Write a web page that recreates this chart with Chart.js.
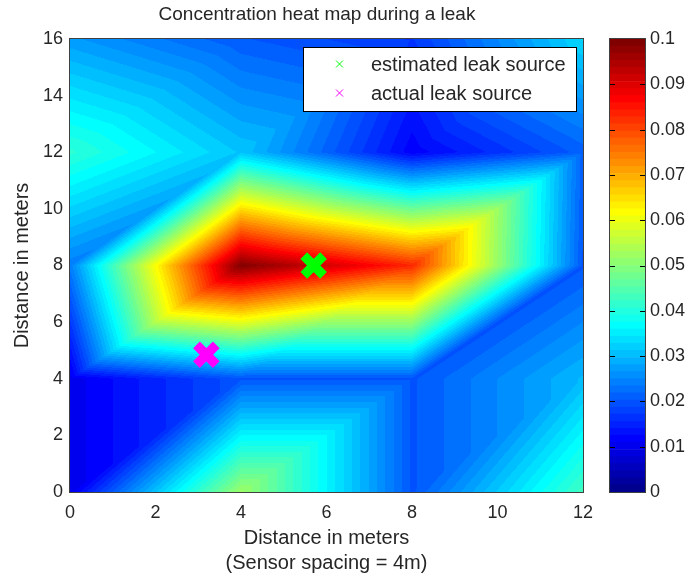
<!DOCTYPE html>
<html>
<head>
<meta charset="utf-8">
<title>Concentration heat map</title>
<script src="https://cdn.jsdelivr.net/npm/chart.js@4"></script>
<style>
    html, body { margin: 0; padding: 0; background: #fff; overflow: hidden; }
    #mapa { position: absolute; left: 0; top: 0; }
    #barra { position: absolute; left: 596px; top: 0; }
</style>
</head>
<body>
<canvas id="mapa" width="634" height="579"></canvas>
<canvas id="barra" width="95" height="579"></canvas>
<script>
const FONT = '"Liberation Sans", Arial, sans-serif';
const INK = '#262626';

// Sensor grid (meters) and concentration read at each sensor
const sensorX = [0, 4, 8, 12];
const sensorY = [0, 4, 8, 12, 16];
const row0 = [0.0100, 0.0520, 0.0200, 0.0430];
const row4 = [0.0100, 0.0200, 0.0200, 0.0300];
const row8 = [0.0240, 0.0990, 0.0830, 0.0200];
const row12 = [0.0410, 0.0310, 0.0115, 0.0210];
const row16 = [0.0270, 0.0205, 0.0170, 0.0330];
const rows = [row0, row4, row8, row12, row16];

const estimatedSource = [{ x: 5.7, y: 8.0 }];
const actualSource = [{ x: 3.19, y: 4.85 }];

const xTicks = [0, 2, 4, 6, 8, 10, 12];
const yTicks = [0, 2, 4, 6, 8, 10, 12, 14, 16];
const barTicks = [0, 0.01, 0.02, 0.03, 0.04, 0.05, 0.06, 0.07, 0.08, 0.09, 0.1];
const CMAX = 0.1;
const LEVELS = 64;

function clamp01(v) { return Math.max(0, Math.min(1, v)); }

// jet colormap, 64 levels
function jet(idx) {
    const t = (idx + 1) / LEVELS;
    return [
        Math.round(255 * clamp01(Math.min(4 * t - 1.5, -4 * t + 4.5))),
        Math.round(255 * clamp01(Math.min(4 * t - 0.5, -4 * t + 3.5))),
        Math.round(255 * clamp01(Math.min(4 * t + 0.5, -4 * t + 2.5)))
    ];
}

// Each grid cell is split in two triangles along its bottom-left to top-right diagonal
function concentracion(x, y) {
    let i = 0, j = 0;
    while (i < sensorX.length - 2 && x > sensorX[i + 1]) i++;
    while (j < sensorY.length - 2 && y > sensorY[j + 1]) j++;
    const u = (x - sensorX[i]) / (sensorX[i + 1] - sensorX[i]);
    const v = (y - sensorY[j]) / (sensorY[j + 1] - sensorY[j]);
    const f00 = rows[j][i], f10 = rows[j][i + 1], f01 = rows[j + 1][i], f11 = rows[j + 1][i + 1];
    if (v > u) return f00 + v * (f01 - f00) + u * (f11 - f01);
    return f00 + u * (f10 - f00) + v * (f11 - f10);
}

const heatPlugin = {
    id: 'heat',
    beforeDatasetsDraw(chart) {
        const { ctx, chartArea: a, scales } = chart;
        const w = Math.round(a.right - a.left), h = Math.round(a.bottom - a.top);
        const x0 = Math.round(a.left), y0 = Math.round(a.top);
        const img = ctx.createImageData(w, h);
        for (let py = 0; py < h; py++) {
            const dy = scales.y.getValueForPixel(a.top + py + 0.5);
            for (let px = 0; px < w; px++) {
                const dx = scales.x.getValueForPixel(a.left + px + 0.5);
                const idx = Math.max(0, Math.min(LEVELS - 1, Math.floor(concentracion(dx, dy) / CMAX * LEVELS)));
                const c = jet(idx), k = (py * w + px) * 4;
                img.data[k] = c[0];
                img.data[k + 1] = c[1];
                img.data[k + 2] = c[2];
                img.data[k + 3] = 255;
            }
        }
        ctx.putImageData(img, x0, y0);

        // the original is a slightly soft raster, so soften the bands a little
        const off = document.createElement('canvas');
        off.width = w;
        off.height = h;
        off.getContext('2d').putImageData(img, 0, 0);
        ctx.save();
        ctx.beginPath();
        ctx.rect(x0, y0, w, h);
        ctx.clip();
        ctx.filter = 'blur(0.7px)';
        ctx.drawImage(off, x0, y0);
        ctx.restore();

        ctx.save();
        ctx.strokeStyle = '#404040';
        ctx.lineWidth = 1;
        ctx.strokeRect(x0 - 0.5, y0 - 0.5, w + 1, h + 1);
        ctx.restore();
    },
    afterDatasetsDraw(chart) {
        const { ctx, chartArea: a } = chart;
        const left = a.left + 233, top = a.top + 8;
        ctx.save();
        ctx.fillStyle = '#fff';
        ctx.strokeStyle = '#000';
        ctx.lineWidth = 1;
        ctx.fillRect(left, top, 273, 64);
        ctx.strokeRect(left + 0.5, top + 0.5, 273, 64);
        ctx.font = '20px ' + FONT;
        ctx.textBaseline = 'middle';
        chart.data.datasets.forEach((ds, i) => {
            const cy = top + 17 + i * 29;
            ctx.strokeStyle = ds.borderColor;
            ctx.beginPath();
            ctx.moveTo(left + 33, cy - 3.5);
            ctx.lineTo(left + 40, cy + 3.5);
            ctx.moveTo(left + 40, cy - 3.5);
            ctx.lineTo(left + 33, cy + 3.5);
            ctx.stroke();
            ctx.fillStyle = INK;
            ctx.fillText(ds.label, left + 68, cy + 1.5);
        });
        ctx.restore();
    }
};

new Chart(document.getElementById('mapa'), {
    type: 'scatter',
    plugins: [heatPlugin],
    data: {
        datasets: [
            { label: 'estimated leak source', data: estimatedSource, borderColor: '#00ff00', backgroundColor: '#00ff00' },
            { label: 'actual leak source', data: actualSource, borderColor: '#ff00ff', backgroundColor: '#ff00ff' }
        ]
    },
    options: {
        responsive: false,
        animation: false,
        layout: { padding: 0 },
        elements: { point: { pointStyle: 'crossRot', radius: 14, borderWidth: 9.5 } },
        plugins: {
            legend: { display: false },
            tooltip: { enabled: false },
            title: {
                display: true,
                text: 'Concentration heat map during a leak',
                color: INK,
                font: { family: FONT, size: 19, weight: 'normal' },
                padding: { top: 3, bottom: 13.2 }
            }
        },
        scales: {
            x: {
                type: 'linear', min: 0, max: 12,
                afterFit: (s) => { s.height = 87; },
                afterBuildTicks: (s) => { s.ticks = xTicks.map(v => ({ value: v })); },
                grid: { display: false, drawTicks: false },
                border: { display: false },
                ticks: { color: INK, font: { family: FONT, size: 18 }, padding: 10, maxRotation: 0 },
                title: {
                    display: true,
                    text: ['Distance in meters', '(Sensor spacing = 4m)'],
                    color: INK,
                    font: { family: FONT, size: 20, weight: 'normal', lineHeight: 1.25 },
                    padding: { top: 4, bottom: 3.5 }
                }
            },
            y: {
                type: 'linear', min: 0, max: 16,
                afterFit: (s) => { s.width = 70; },
                afterBuildTicks: (s) => { s.ticks = yTicks.map(v => ({ value: v })); },
                grid: { display: false, drawTicks: false },
                border: { display: false },
                ticks: { color: INK, font: { family: FONT, size: 18 }, padding: 7 },
                title: {
                    display: true,
                    text: 'Distance in meters',
                    color: INK,
                    font: { family: FONT, size: 20, weight: 'normal', lineHeight: 1.25 },
                    padding: { top: 9.5, bottom: 0 }
                }
            },
            // empty axis, keeps room on the right so the title centres on the whole figure
            derecha: {
                type: 'linear', position: 'right',
                afterFit: (s) => { s.width = 51; },
                grid: { display: false, drawTicks: false },
                border: { display: false },
                ticks: { display: false }
            }
        }
    }
});

// Colorbar: one floating bar per colormap level
const barLevels = Array.from({ length: LEVELS }, (_, i) => i);

const barFrame = {
    id: 'barFrame',
    afterDatasetsDraw(chart) {
        const { ctx, chartArea: a, scales } = chart;
        ctx.save();
        ctx.strokeStyle = '#404040';
        ctx.lineWidth = 1;
        ctx.strokeRect(Math.round(a.left) - 0.5, Math.round(a.top) - 0.5, Math.round(a.right - a.left) + 1, Math.round(a.bottom - a.top) + 1);
        ctx.strokeStyle = '#000';
        barTicks.slice(1, -1).forEach(v => {
            const py = Math.round(scales.y.getPixelForValue(v)) + 0.5;
            ctx.beginPath();
            ctx.moveTo(a.left, py);
            ctx.lineTo(a.left + 5, py);
            ctx.moveTo(a.right - 5, py);
            ctx.lineTo(a.right, py);
            ctx.stroke();
        });
        ctx.restore();
    }
};

new Chart(document.getElementById('barra'), {
    type: 'bar',
    plugins: [barFrame],
    data: {
        labels: [''],
        datasets: barLevels.map(i => {
            const c = jet(i);
            return {
                data: [[i / LEVELS * CMAX, (i + 1) / LEVELS * CMAX]],
                backgroundColor: `rgb(${c[0]},${c[1]},${c[2]})`,
                borderWidth: 0,
                grouped: false,
                barPercentage: 1,
                categoryPercentage: 1
            };
        })
    },
    options: {
        responsive: false,
        animation: false,
        layout: { padding: { left: 14, right: 0, top: 39, bottom: 87 } },
        plugins: { legend: { display: false }, tooltip: { enabled: false } },
        scales: {
            x: { display: false },
            y: {
                position: 'right',
                min: 0, max: CMAX,
                afterFit: (s) => { s.width = 46; },
                afterBuildTicks: (s) => { s.ticks = barTicks.map(v => ({ value: v })); },
                grid: { display: false, drawTicks: false },
                border: { display: false },
                ticks: {
                    color: INK,
                    font: { family: FONT, size: 18 },
                    padding: 5,
                    callback: (v) => String(Math.round(v * 100) / 100)
                }
            }
        }
    }
});
</script>
</body>
</html>
